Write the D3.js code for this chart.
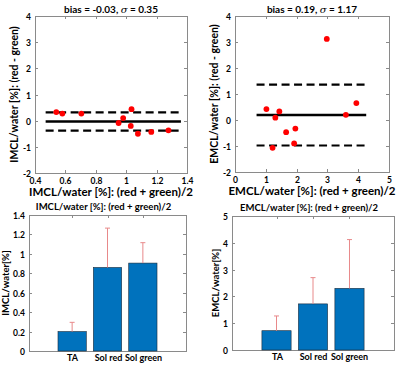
<!DOCTYPE html>
<html>
<head>
<meta charset="utf-8">
<script src="https://cdn.jsdelivr.net/npm/d3@7"></script>
<style>
    body { margin: 0; background: white; }
    svg text { font-family: Lato, "DejaVu Sans", sans-serif; font-weight: bold; fill: #000; }
    .axisBox { fill: none; stroke: #8a8a8a; stroke-width: 1; }
    .tickLabel { font-size: 8.5px; }
</style>
</head>
<body>
<svg class="svgMain" width="400" height="368"></svg>
<script>
// Bland-Altman plots (top) and mean bars (bottom) for IMCL / EMCL.

// Data
var imclMean = [0.54, 0.58, 0.705, 0.95, 0.98, 1.035, 1.03, 1.077, 1.165, 1.278];
var imclDiff = [0.33, 0.27, 0.27, -0.09, 0.10, 0.44, -0.20, -0.50, -0.43, -0.37];
var imclBias = -0.03;
var imclSigma = 0.35;
var imclLineX = [0.47, 1.36];

var emclMean = [2.98, 1.02, 1.22, 1.31, 1.44, 1.66, 1.92, 1.96, 3.60, 3.94];
var emclDiff = [3.12, 0.42, -1.07, 0.09, 0.33, -0.47, -0.90, -0.33, 0.20, 0.65];
var emclBias = 0.19;
var emclSigma = 1.17;
var emclLineX = [0.7, 4.26];

var groups = ["TA", "Sol red", "Sol green"];
var imclBars = [0.20, 0.86, 0.905];
var imclErr = [0.095, 0.405, 0.21];
var emclBars = [0.72, 1.72, 2.30];
var emclErr = [0.55, 0.98, 1.82];

var imclXTicks = [0.4, 0.6, 0.8, 1, 1.2, 1.4];
var emclXTicks = [0, 1, 2, 3, 4, 5];
var baYTicks = [-2, -1, 0, 1, 2, 3, 4];
var imclBarTicks = [0, 0.2, 0.4, 0.6, 0.8, 1, 1.2, 1.4];
var emclBarTicks = [0, 1, 2, 3, 4, 5];

var svgMain = d3.select(".svgMain");

// Helper Functions
function drawBox (g, w, h) {
    g.append("rect")
        .attr("class", "axisBox")
        .attr("x", 0.5).attr("y", 0.5)
        .attr("width", w).attr("height", h);
}

function drawYTicks (g, y, ticks, w) {
    for (var i = 0; i < ticks.length; i++) {
        var ty = Math.round(y(ticks[i])) + 0.5;
        g.append("line").attr("x1", 0).attr("x2", 3).attr("y1", ty).attr("y2", ty)
            .attr("stroke", "#8a8a8a");
        g.append("line").attr("x1", w - 3).attr("x2", w).attr("y1", ty).attr("y2", ty)
            .attr("stroke", "#8a8a8a");
        g.append("text")
            .attr("class", "tickLabel")
            .attr("x", -4).attr("y", ty + 3)
            .attr("text-anchor", "end")
            .text(ticks[i] < 0 ? "-" + Math.abs(ticks[i]) : ticks[i]);
    }
}

function drawXTicks (g, x, ticks, h) {
    for (var i = 0; i < ticks.length; i++) {
        var tx = Math.round(x(ticks[i])) + 0.5;
        g.append("line").attr("x1", tx).attr("x2", tx).attr("y1", h).attr("y2", h - 3)
            .attr("stroke", "#8a8a8a");
        g.append("line").attr("x1", tx).attr("x2", tx).attr("y1", 0).attr("y2", 3)
            .attr("stroke", "#8a8a8a");
        g.append("text")
            .attr("class", "tickLabel")
            .attr("x", tx).attr("y", h + 11)
            .attr("text-anchor", "middle")
            .text(ticks[i]);
    }
}

// Bland-Altman panel
function drawBlandAltman (opt) {
    var w = opt.right - opt.left;
    var h = opt.bottom - opt.top;
    var g = svgMain.append("g").attr("transform", "translate(" + opt.left + "," + opt.top + ")");
    var x = d3.scaleLinear().domain(opt.xDomain).range([0, w]);
    var y = d3.scaleLinear().domain([-2, 4]).range([h, 0]);

    drawBox(g, w, h);
    drawYTicks(g, y, baYTicks, w);
    drawXTicks(g, x, opt.xTicks, h);

    // bias and +/- sigma lines
    var levels = [opt.bias - opt.sigma, opt.bias, opt.bias + opt.sigma];
    for (var i = 0; i < levels.length; i++) {
        g.append("line")
            .attr("x1", x(opt.lineX[0])).attr("x2", x(opt.lineX[1]))
            .attr("y1", y(levels[i])).attr("y2", y(levels[i]))
            .attr("stroke", "black")
            .attr("stroke-width", i == 1 ? 2.5 : 2.2)
            .attr("stroke-dasharray", i == 1 ? null : "8,4.5");
    }

    g.selectAll("circle.pt")
        .data(opt.xs)
        .enter().append("circle")
        .attr("class", "pt")
        .attr("cx", function (d) { return x(d); })
        .attr("cy", function (d, i) { return y(opt.ys[i]); })
        .attr("r", 2.9)
        .attr("fill", "#ff0000");

    // title with italic sigma
    var t = g.append("text")
        .attr("x", w / 2).attr("y", -3.5)
        .attr("text-anchor", "middle")
        .style("font-size", "10px");
    t.append("tspan").text("bias = " + opt.bias.toFixed(2) + ", ");
    t.append("tspan").text("σ").style("font-style", "italic").style("font-weight", "normal")
        .style("font-family", "'DejaVu Serif', serif");
    t.append("tspan").text(" = " + opt.sigma.toFixed(2));

    g.append("text")
        .attr("x", w / 2).attr("y", h + 23)
        .attr("text-anchor", "middle")
        .style("font-size", "11.5px")
        .text(opt.name + "/water [%]: (red + green)/2");

    g.append("text")
        .attr("transform", "translate(" + (-17) + "," + (h / 2) + ") rotate(-90)")
        .attr("text-anchor", "middle")
        .style("font-size", "10.5px")
        .text(opt.name + "/water [%]: (red - green)");
}

// Bar panel
function drawBarPanel (opt) {
    var w = opt.right - opt.left;
    var h = opt.bottom - opt.top;
    var g = svgMain.append("g").attr("transform", "translate(" + opt.left + "," + opt.top + ")");
    var x = d3.scaleLinear().domain([-0.22, 4.22]).range([0, w]);
    var y = d3.scaleLinear().domain(opt.yDomain).range([h, 0]);
    var barW = x(0.8) - x(0);

    drawBox(g, w, h);
    drawYTicks(g, y, opt.yTicks, w);

    // x tick marks at bar positions
    for (var i = 0; i < groups.length; i++) {
        var tx = Math.round(x(i + 1)) + 0.5;
        g.append("line").attr("x1", tx).attr("x2", tx).attr("y1", 0).attr("y2", 3)
            .attr("stroke", "#8a8a8a");
        g.append("text")
            .attr("class", "tickLabel")
            .attr("x", tx).attr("y", h + 10)
            .attr("text-anchor", "middle")
            .style("font-size", "9px")
            .text(groups[i]);
    }

    g.selectAll("rect.bar")
        .data(opt.values)
        .enter().append("rect")
        .attr("class", "bar")
        .attr("x", function (d, i) { return x(i + 1) - barW / 2; })
        .attr("y", function (d) { return y(d); })
        .attr("width", barW)
        .attr("height", function (d) { return h - y(d); })
        .attr("fill", "#0072bd")
        .attr("stroke", "#1a2a3a")
        .attr("stroke-width", 0.6);

    // upper error bars
    for (var i = 0; i < opt.values.length; i++) {
        var cx = x(i + 1);
        var top = y(opt.values[i] + opt.errors[i]);
        g.append("line").attr("x1", cx).attr("x2", cx)
            .attr("y1", y(opt.values[i])).attr("y2", top)
            .attr("stroke", "#e8898a").attr("stroke-width", 1);
        g.append("line").attr("x1", cx - 2.5).attr("x2", cx + 2.5)
            .attr("y1", top).attr("y2", top)
            .attr("stroke", "#e8898a").attr("stroke-width", 1);
    }

    svgMain.append("text")
        .attr("x", opt.left + w / 2 - 4).attr("y", opt.top - 5)
        .attr("text-anchor", "middle")
        .style("font-size", "9.5px")
        .text(opt.name + "/water [%]: (red + green)/2");

    g.append("text")
        .attr("transform", "translate(" + opt.yLabelX + "," + (h / 2) + ") rotate(-90)")
        .attr("text-anchor", "middle")
        .style("font-size", "9.5px")
        .text(opt.name + "/water[%]");
}

drawBlandAltman({ name: "IMCL", left: 35, right: 187, top: 16, bottom: 173,
    xDomain: [0.4, 1.4], xTicks: imclXTicks, xs: imclMean, ys: imclDiff,
    bias: imclBias, sigma: imclSigma, lineX: imclLineX });
drawBlandAltman({ name: "EMCL", left: 235, right: 389, top: 16, bottom: 172,
    xDomain: [0, 5], xTicks: emclXTicks, xs: emclMean, ys: emclDiff,
    bias: emclBias, sigma: emclSigma, lineX: emclLineX });

drawBarPanel({ name: "IMCL", left: 29, right: 186, top: 215, bottom: 351,
    yDomain: [0, 1.4], yTicks: imclBarTicks, values: imclBars, errors: imclErr, yLabelX: -20 });
drawBarPanel({ name: "EMCL", left: 232, right: 394, top: 216, bottom: 350,
    yDomain: [0, 5], yTicks: emclBarTicks, values: emclBars, errors: emclErr, yLabelX: -13 });
</script>
</body>
</html>
